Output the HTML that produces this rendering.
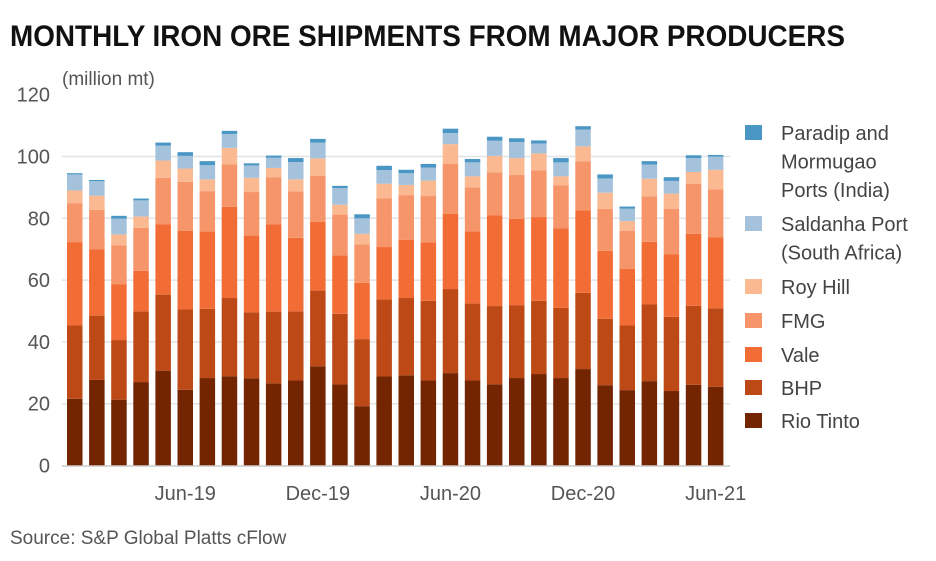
<!DOCTYPE html>
<html><head><meta charset="utf-8"><style>
body{margin:0;background:#fff;}
svg text{font-family:"Liberation Sans",sans-serif;}
</style></head><body>
<svg id="chart" width="936" height="556" xmlns="http://www.w3.org/2000/svg">
<text x="10" y="46" font-size="30" font-weight="bold" fill="#111" textLength="835" lengthAdjust="spacingAndGlyphs">MONTHLY IRON ORE SHIPMENTS FROM MAJOR PRODUCERS</text>
<text x="62" y="85" font-size="19" fill="#555">(million mt)</text>
<g id="grid"></g><g id="bars"></g><g id="axes"></g>
<text x="10" y="544" font-size="19" fill="#555">Source: S&amp;P Global Platts cFlow</text>
<g id="legend"></g>
</svg>
<script>
const months = ["Jan-19","Feb-19","Mar-19","Apr-19","May-19","Jun-19","Jul-19","Aug-19","Sep-19","Oct-19","Nov-19","Dec-19","Jan-20","Feb-20","Mar-20","Apr-20","May-20","Jun-20","Jul-20","Aug-20","Sep-20","Oct-20","Nov-20","Dec-20","Jan-21","Feb-21","Mar-21","Apr-21","May-21","Jun-21"];
const rioTinto = [21.6,27.7,21.3,27,30.7,24.5,28.3,28.9,28.2,26.6,27.5,32.1,26.2,19.2,28.8,29.2,27.5,29.9,27.5,26.3,28.3,29.6,28.3,31.2,26,24.4,27.3,24.1,26.1,25.5];
const bhp = [23.7,20.8,19.3,22.9,24.6,26,22.4,25.3,21.4,23.2,22.4,24.5,22.9,21.7,24.9,25,25.8,27.2,24.9,25.3,23.6,23.7,22.7,24.7,21.5,20.9,24.8,24,25.6,25.4];
const vale = [27,21.4,18.1,13.1,22.7,25.4,25,29.5,24.8,28.2,23.8,22.3,18.9,18.2,17,18.8,18.9,24.3,23.4,29.3,27.9,27.1,25.8,26.7,22,18.3,20.3,20.3,23.3,22.9];
const fmg = [12.6,12.8,12.5,13.9,15.1,15.9,13.1,13.7,14.1,15.3,15,14.8,13.2,12.5,15.8,14.5,15,16.3,14.2,14,14.2,15.1,13.9,15.8,13.6,12.4,14.7,14.6,16.2,15.6];
const royHill = [4.1,4.6,3.6,3.7,5.6,4.3,3.8,5.4,4.6,3,3.9,5.7,3.2,3.4,4.7,3.3,5,6.3,3.6,5.3,5.5,5.5,2.9,4.9,5.2,3.1,5.7,5,3.8,6.3];
const saldanha = [5.2,4.7,5.1,5.2,4.8,4.1,4.6,4.5,4,3.3,5.6,5.1,5.4,5,4.4,3.8,4.2,3.6,4.5,4.9,5.2,3.2,4.5,5.4,4.6,4,4.6,4.1,4.5,4.3];
const paradip = [0.4,0.4,0.9,0.6,1,1.2,1.3,1,0.7,0.7,1.3,1.2,0.7,1.3,1.4,1.1,1.2,1.4,1.1,1.3,1.2,1,1.4,1.1,1.3,0.7,1.1,1.2,0.9,0.5];
const yTicks = [0,20,40,60,80,100,120];
const xTickLabels = ["Jun-19","Dec-19","Jun-20","Dec-20","Jun-21"];
const xTickIdx = [5,11,17,23,29];

const NS="http://www.w3.org/2000/svg";
function mk(tag,attrs,parent){const e=document.createElementNS(NS,tag);for(const k in attrs)e.setAttribute(k,attrs[k]);parent.appendChild(e);return e;}
const y0=465.5, pxPer=3.09, x0=67, step=22.1, bw=15.5;
const yS=v=>y0-v*pxPer;
const xS=i=>x0+i*step;

const grid=document.getElementById('grid'), axes=document.getElementById('axes'), bars=document.getElementById('bars'), legend=document.getElementById('legend');
yTicks.forEach(t=>{
  if(t>0&&t<120){const l=mk('line',{x1:62,x2:730,y1:yS(t),y2:yS(t),stroke:'#e3e3e3','stroke-width':1.5},grid);
  
  }
  const tx=mk('text',{x:50,y:yS(t)+7,'font-size':20,fill:'#555','text-anchor':'end'},axes);
  tx.textContent=t;
  
  
});
const ax=mk('line',{x1:62,x2:730,y1:y0+0.5,y2:y0+0.5,stroke:'#ccc','stroke-width':1.5},axes);


xTickLabels.forEach((lab,k)=>{
  const tx=mk('text',{x:xS(xTickIdx[k])+bw/2,y:500,'font-size':20,fill:'#555','text-anchor':'middle'},axes);
  tx.textContent=lab;
  
  
});
const series=[["Rio Tinto",rioTinto,"#722500"],["BHP",bhp,"#bd4917"],["Vale",vale,"#f26d35"],["FMG",fmg,"#f6956a"],["Roy Hill",royHill,"#fbb992"],["Saldanha Port (South Africa)",saldanha,"#a4c2db"],["Paradip and Mormugao Ports (India)",paradip,"#4a96c5"]];
months.forEach((m,i)=>{
  let cum=0;
  series.forEach(([name,vals,col])=>{
    const v=vals[i];
    const r=mk('rect',{x:xS(i),y:yS(cum+v),width:bw,height:v*pxPer,fill:col},bars);
    
    
    cum+=v;
  });
});
const leg=[["#4a96c5",["Paradip and","Mormugao","Ports (India)"],140],["#a4c2db",["Saldanha Port","(South Africa)"],231],["#fbb992",["Roy Hill"],294],["#f6956a",["FMG"],328],["#f26d35",["Vale"],362],["#bd4917",["BHP"],395],["#722500",["Rio Tinto"],428]];
leg.forEach(([col,lines,y])=>{
  const g=mk('g',{},legend);
  
  
  mk('rect',{x:745,y:y-15,width:17,height:15,fill:col},g);
  lines.forEach((ln,j)=>{const t=mk('text',{x:781,y:y+j*28.5,'font-size':20,fill:'#444'},g);t.textContent=ln;});
});
</script>
</body></html>
